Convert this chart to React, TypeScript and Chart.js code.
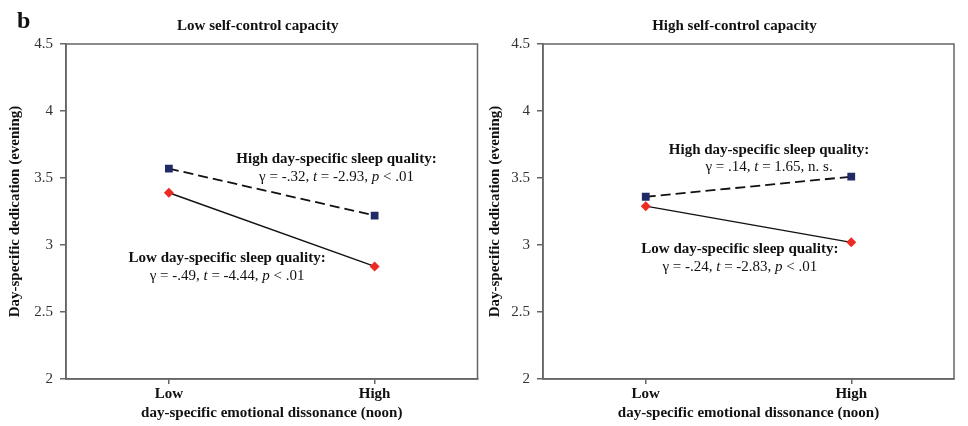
import React, { useEffect, useRef } from "react";
import { Chart, registerables } from "chart.js";
Chart.register(...registerables);

// ---------- data ----------
const categories = ["Low", "High"];
const yTickValues = [2, 2.5, 3, 3.5, 4, 4.5];
const panelTitles = ["Low self-control capacity", "High self-control capacity"];
const seriesNames = ["High day-specific sleep quality", "Low day-specific sleep quality"];
const lowSCHighSleep = [3.57, 3.22];
const lowSCLowSleep = [3.39, 2.84];
const highSCHighSleep = [3.36, 3.51];
const highSCLowSleep = [3.29, 3.02];
const lowSCStats = ["γ = -.32, *t* = -2.93, *p* < .01", "γ = -.49, *t* = -4.44, *p* < .01"];
const highSCStats = ["γ = .14, *t* = 1.65, n. s.", "γ = -.24, *t* = -2.83, *p* < .01"];
const yTitle = "Day-specific dedication (evening)";
const xTitle = "day-specific emotional dissonance (noon)";

const SERIF = "'Liberation Serif', 'Times New Roman', serif";

type Note = { head: string; stat: string; x: number; headY: number; statY: number };

function drawMixed(ctx: CanvasRenderingContext2D, text: string, cx: number, cy: number) {
  const parts = text.split("*");
  const fonts = parts.map((_, i) => (i % 2 === 1 ? `italic 15px ${SERIF}` : `15px ${SERIF}`));
  let total = 0;
  const widths = parts.map((p, i) => {
    ctx.font = fonts[i];
    const w = ctx.measureText(p).width;
    total += w;
    return w;
  });
  let x = cx - total / 2;
  ctx.textAlign = "left";
  parts.forEach((p, i) => {
    ctx.font = fonts[i];
    ctx.fillText(p, x, cy);
    x += widths[i];
  });
}

function Panel(props: {
  title: string;
  high: number[];
  low: number[];
  notes: Note[];
  showB: boolean;
  yWidth: number;
  padRight: number;
  width: number;
  left: number;
}) {
  const ref = useRef<HTMLCanvasElement>(null);
  useEffect(() => {
    const { title, high, low, notes, showB, yWidth, padRight } = props;
    const deco = {
      id: "deco",
      afterDraw(chart: any) {
        const { ctx, chartArea: a, scales } = chart;
        ctx.save();
        ctx.strokeStyle = "#666";
        ctx.lineWidth = 1.5;
        ctx.strokeRect(a.left, a.top, a.right - a.left, a.bottom - a.top);
        ctx.fillStyle = "#111";
        ctx.textBaseline = "middle";
        ctx.textAlign = "center";
        ctx.font = `bold 15px ${SERIF}`;
        ctx.fillText(title, (a.left + a.right) / 2 - 14, 26);
        if (showB) {
          ctx.font = `bold 24px ${SERIF}`;
          ctx.textAlign = "left";
          ctx.fillText("b", 17, 22);
        }
        for (const n of notes) {
          const x = scales.x.getPixelForValue(n.x);
          ctx.font = `bold 15px ${SERIF}`;
          ctx.textAlign = "center";
          ctx.fillText(n.head, x, scales.y.getPixelForValue(n.headY));
          drawMixed(ctx, n.stat, x, scales.y.getPixelForValue(n.statY));
        }
        ctx.restore();
      },
    };
    const chart = new Chart(ref.current!, {
      type: "line",
      data: {
        labels: categories,
        datasets: [
          {
            label: seriesNames[0],
            data: high,
            borderColor: "#111",
            borderWidth: 1.8,
            borderDash: [10, 5],
            pointStyle: "rect",
            pointRadius: 5.5,
            pointBackgroundColor: "#1f2a66",
            pointBorderColor: "#1f2a66",
            pointBorderWidth: 0,
          },
          {
            label: seriesNames[1],
            data: low,
            borderColor: "#111",
            borderWidth: 1.4,
            pointStyle: "rectRot",
            pointRadius: 5,
            pointBackgroundColor: "#ec2b24",
            pointBorderColor: "#ec2b24",
            pointBorderWidth: 0,
          },
        ],
      },
      options: {
        animation: false,
        responsive: true,
        maintainAspectRatio: false,
        layout: { padding: { top: 44, right: padRight, left: 0, bottom: 0 } },
        plugins: { legend: { display: false }, tooltip: { enabled: false }, title: { display: false } },
        scales: {
          x: {
            type: "category",
            offset: true,
            grid: { display: true, drawOnChartArea: false, tickLength: 5, color: "#666", lineWidth: 1.5 },
            border: { display: true, color: "#666", width: 1.5 },
            ticks: { font: { family: SERIF, size: 15, weight: "bold" }, color: "#111", padding: 1 },
            title: {
              display: true,
              text: xTitle,
              font: { family: SERIF, size: 15, weight: "bold" },
              color: "#111",
              padding: { top: 0, bottom: 4 },
            },
            afterFit: (s: any) => {
              s.height = 47;
            },
          },
          y: {
            type: "linear",
            min: 2,
            max: 4.5,
            afterBuildTicks: (s: any) => {
              s.ticks = yTickValues.map((v) => ({ value: v }));
            },
            grid: { display: true, drawOnChartArea: false, tickLength: 6, color: "#666", lineWidth: 1.5 },
            border: { display: true, color: "#666", width: 1.5 },
            ticks: {
              font: { family: SERIF, size: 15 },
              color: "#333",
              padding: 7,
              callback: (v: any) => String(v),
            },
            title: {
              display: true,
              text: yTitle,
              font: { family: SERIF, size: 15, weight: "bold" },
              color: "#111",
              padding: { top: 6, bottom: 0 },
            },
            afterFit: (s: any) => {
              s.width = yWidth;
            },
          },
        },
      } as any,
      plugins: [deco],
    });
    return () => chart.destroy();
  }, []);
  return (
    <div style={{ position: "absolute", left: props.left, top: 0, width: props.width, height: 426 }}>
      <canvas ref={ref} />
    </div>
  );
}

export default function App() {
  const leftNotes: Note[] = [
    { head: seriesNames[0] + ":", stat: lowSCStats[0], x: 0.815, headY: 3.64, statY: 3.507 },
    { head: seriesNames[1] + ":", stat: lowSCStats[1], x: 0.283, headY: 2.9, statY: 2.77 },
  ];
  const rightNotes: Note[] = [
    { head: seriesNames[0] + ":", stat: highSCStats[0], x: 0.6, headY: 3.709, statY: 3.58 },
    { head: seriesNames[1] + ":", stat: highSCStats[1], x: 0.458, headY: 2.968, statY: 2.838 },
  ];
  return (
    <div style={{ position: "absolute", left: 0, top: 0, width: 968, height: 426, background: "#fff" }}>
      <Panel title={panelTitles[0]} high={lowSCHighSleep} low={lowSCLowSleep} notes={leftNotes} showB={true} yWidth={66} padRight={0} width={483} left={0} />
      <Panel title={panelTitles[1]} high={highSCHighSleep} low={highSCLowSleep} notes={rightNotes} showB={false} yWidth={63} padRight={14} width={488} left={480} />
    </div>
  );
}
